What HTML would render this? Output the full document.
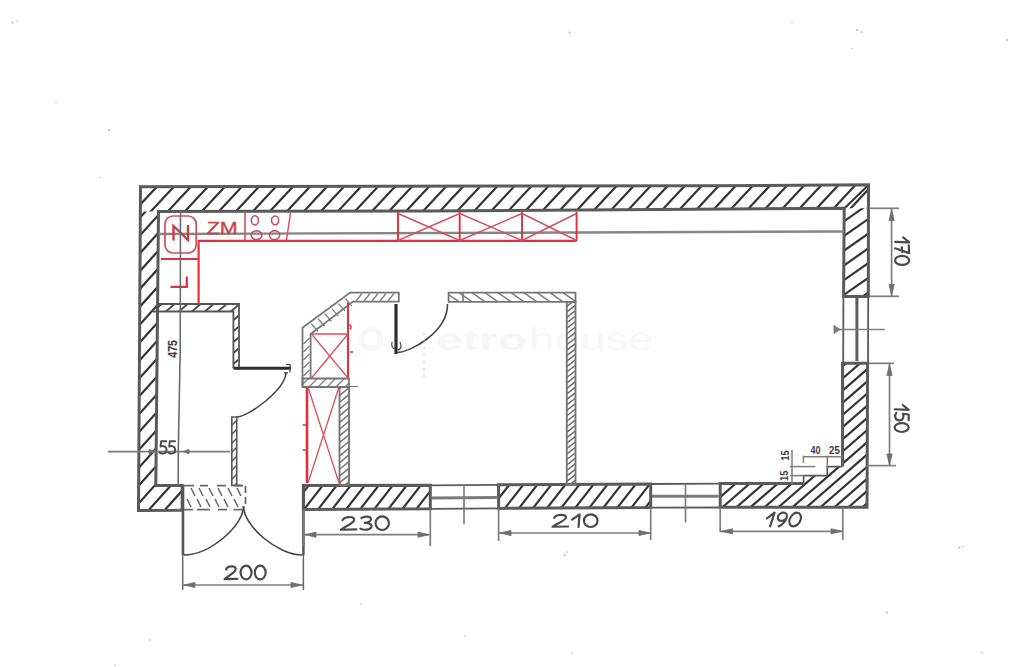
<!DOCTYPE html>
<html><head><meta charset="utf-8"><style>
html,body{margin:0;padding:0;background:#fff;}
svg{display:block;}
</style></head><body>
<svg width="1024" height="667" viewBox="0 0 1024 667">
<defs><clipPath id="c1"><polygon points="140.5,186.7 710.0,185.8 868.5,184.7 868.4,208.3 844.2,208.3 430.0,210.9 158.5,211.5 140.3,211.5"/></clipPath><clipPath id="c2"><polygon points="140.3,211.5 158.5,211.5 155.8,485.6 182.2,485.6 182.2,510.2 138.5,510.4"/></clipPath><clipPath id="c3"><polygon points="844.2,208.3 868.4,208.3 868.3,296.5 843.6,296.5"/></clipPath><clipPath id="c4"><polygon points="303.4,485.5 430.3,485.3 430.3,508.8 303.4,509.6"/></clipPath><clipPath id="c5"><polygon points="498.6,484.8 650.7,484.0 650.7,507.6 498.6,508.4"/></clipPath><clipPath id="c6"><polygon points="720.2,483.6 803.6,483.6 803.6,475.6 827.3,475.6 827.3,466.6 842.4,466.6 842.7,363.3 867.6,363.3 867.0,507.2 720.2,507.5"/></clipPath><clipPath id="c7"><polygon points="157.0,304.0 239.0,304.0 239.0,368.5 233.4,368.5 233.4,311.5 157.0,311.5"/></clipPath><clipPath id="c8"><polygon points="231.8,417.0 236.7,417.0 236.7,485.5 231.8,485.5"/></clipPath><clipPath id="c9"><polygon points="302.5,378.5 349.0,378.5 349.0,387.0 302.5,387.0"/></clipPath><clipPath id="c10"><polygon points="339.5,387.0 349.0,387.0 349.0,485.0 339.5,485.0"/></clipPath><clipPath id="c11"><polygon points="448.6,292.7 575.5,292.7 575.5,301.9 448.6,301.9"/></clipPath><clipPath id="c12"><polygon points="566.8,301.9 575.5,301.9 575.5,485.0 566.8,485.0"/></clipPath></defs>
<g><rect width="1024" height="667" fill="#ffffff"/><circle cx="371" cy="339" r="9.5" fill="none" stroke="#f8f8f8" stroke-width="5"/><text x="436" y="350" font-family="Liberation Sans, sans-serif" font-size="29" font-weight="bold" fill="#f6f6f6" textLength="91" lengthAdjust="spacingAndGlyphs">etro</text><text x="529" y="350" font-family="Liberation Sans, sans-serif" font-size="31" fill="#f7f7f7" textLength="125" lengthAdjust="spacingAndGlyphs">house</text><circle cx="569.5" cy="32.5" r="0.9" fill="#b4b4b4"/><circle cx="792" cy="22.5" r="0.8" fill="#b4b4b4"/><circle cx="857" cy="30" r="1.1" fill="#b4b4b4"/><circle cx="861.5" cy="32" r="0.9" fill="#b4b4b4"/><circle cx="852" cy="48.5" r="0.7" fill="#b4b4b4"/><circle cx="1007" cy="40" r="0.9" fill="#b4b4b4"/><circle cx="12.5" cy="22.5" r="0.9" fill="#b4b4b4"/><circle cx="17" cy="21" r="0.7" fill="#b4b4b4"/><circle cx="56" cy="102.5" r="0.8" fill="#b4b4b4"/><circle cx="109" cy="130" r="1" fill="#b4b4b4"/><circle cx="100" cy="177.5" r="0.8" fill="#b4b4b4"/><circle cx="564.5" cy="555" r="0.9" fill="#b4b4b4"/><circle cx="567" cy="552" r="0.8" fill="#b4b4b4"/><circle cx="959.5" cy="547.5" r="0.9" fill="#b4b4b4"/><circle cx="963" cy="546.5" r="0.8" fill="#b4b4b4"/><circle cx="887" cy="612.5" r="0.9" fill="#b4b4b4"/><circle cx="572" cy="652.5" r="0.8" fill="#b4b4b4"/><circle cx="982" cy="652.5" r="0.8" fill="#b4b4b4"/><circle cx="150" cy="640" r="0.8" fill="#b4b4b4"/><circle cx="361" cy="604" r="0.8" fill="#b4b4b4"/><circle cx="465" cy="636" r="0.8" fill="#b4b4b4"/><circle cx="115" cy="665" r="0.8" fill="#b4b4b4"/><g clip-path="url(#c1)"><path d="M95.1,216.5L129.4,179.7M112.1,216.5L146.4,179.7M129.1,216.5L163.4,179.7M146.1,216.5L180.4,179.7M163.1,216.5L197.4,179.7M180.1,216.5L214.4,179.7M197.1,216.5L231.4,179.7M214.1,216.5L248.4,179.7M231.1,216.5L265.4,179.7M248.1,216.5L282.4,179.7M265.1,216.5L299.4,179.7M282.1,216.5L316.4,179.7M299.1,216.5L333.4,179.7M316.1,216.5L350.4,179.7M333.1,216.5L367.4,179.7M350.1,216.5L384.4,179.7M367.1,216.5L401.4,179.7M384.1,216.5L418.4,179.7M401.1,216.5L435.4,179.7M418.1,216.5L452.4,179.7M435.1,216.5L469.4,179.7M452.1,216.5L486.4,179.7M469.1,216.5L503.4,179.7M486.1,216.5L520.4,179.7M503.1,216.5L537.4,179.7M520.1,216.5L554.4,179.7M537.1,216.5L571.4,179.7M554.1,216.5L588.4,179.7M571.1,216.5L605.4,179.7M588.1,216.5L622.4,179.7M605.1,216.5L639.4,179.7M622.1,216.5L656.4,179.7M639.1,216.5L673.4,179.7M656.1,216.5L690.4,179.7M673.1,216.5L707.4,179.7M690.1,216.5L724.4,179.7M707.1,216.5L741.4,179.7M724.1,216.5L758.4,179.7M741.1,216.5L775.4,179.7M758.1,216.5L792.4,179.7M775.1,216.5L809.4,179.7M792.1,216.5L826.4,179.7M809.1,216.5L843.4,179.7M826.1,216.5L860.4,179.7M843.1,216.5L877.4,179.7M860.1,216.5L894.4,179.7" stroke="#353535" stroke-width="2.2" fill="none"/></g><g clip-path="url(#c2)"><path d="M-160.1,515.4L118.1,206.5M-144.1,515.4L134.1,206.5M-128.1,515.4L150.1,206.5M-112.1,515.4L166.1,206.5M-96.1,515.4L182.1,206.5M-80.1,515.4L198.1,206.5M-64.1,515.4L214.1,206.5M-48.1,515.4L230.1,206.5M-32.1,515.4L246.1,206.5M-16.1,515.4L262.1,206.5M-0.1,515.4L278.1,206.5M15.9,515.4L294.1,206.5M31.9,515.4L310.1,206.5M47.9,515.4L326.1,206.5M63.9,515.4L342.1,206.5M79.9,515.4L358.1,206.5M95.9,515.4L374.1,206.5M111.9,515.4L390.1,206.5M127.9,515.4L406.1,206.5M143.9,515.4L422.1,206.5M159.9,515.4L438.1,206.5M175.9,515.4L454.1,206.5" stroke="#353535" stroke-width="2.2" fill="none"/></g><g clip-path="url(#c3)"><path d="M687.4,301.5L827.7,203.3M708.4,301.5L848.7,203.3M729.4,301.5L869.7,203.3M750.4,301.5L890.7,203.3M771.4,301.5L911.7,203.3M792.4,301.5L932.7,203.3M813.4,301.5L953.7,203.3M834.4,301.5L974.7,203.3M855.4,301.5L995.7,203.3" stroke="#353535" stroke-width="2.2" fill="none"/></g><g clip-path="url(#c4)"><path d="M258.0,514.6L284.7,480.3M272.0,514.6L298.7,480.3M286.0,514.6L312.7,480.3M300.0,514.6L326.7,480.3M314.0,514.6L340.7,480.3M328.0,514.6L354.7,480.3M342.0,514.6L368.7,480.3M356.0,514.6L382.7,480.3M370.0,514.6L396.7,480.3M384.0,514.6L410.7,480.3M398.0,514.6L424.7,480.3M412.0,514.6L438.7,480.3M426.0,514.6L452.7,480.3" stroke="#353535" stroke-width="2.2" fill="none"/></g><g clip-path="url(#c5)"><path d="M458.9,513.4L485.8,479.0M472.9,513.4L499.8,479.0M486.9,513.4L513.8,479.0M500.9,513.4L527.8,479.0M514.9,513.4L541.8,479.0M528.9,513.4L555.8,479.0M542.9,513.4L569.8,479.0M556.9,513.4L583.8,479.0M570.9,513.4L597.8,479.0M584.9,513.4L611.8,479.0M598.9,513.4L625.8,479.0M612.9,513.4L639.8,479.0M626.9,513.4L653.8,479.0M640.9,513.4L667.8,479.0M654.9,513.4L681.8,479.0" stroke="#353535" stroke-width="2.2" fill="none"/></g><g clip-path="url(#c6)"><path d="M534.4,512.5L711.8,358.3M548.4,512.5L725.8,358.3M562.4,512.5L739.8,358.3M576.4,512.5L753.8,358.3M590.4,512.5L767.8,358.3M604.4,512.5L781.8,358.3M618.4,512.5L795.8,358.3M632.4,512.5L809.8,358.3M646.4,512.5L823.8,358.3M660.4,512.5L837.8,358.3M674.4,512.5L851.8,358.3M688.4,512.5L865.8,358.3M702.4,512.5L879.8,358.3M716.4,512.5L893.8,358.3M730.4,512.5L907.8,358.3M744.4,512.5L921.8,358.3M758.4,512.5L935.8,358.3M772.4,512.5L949.8,358.3M786.4,512.5L963.8,358.3M800.4,512.5L977.8,358.3M814.4,512.5L991.8,358.3M828.4,512.5L1005.8,358.3M842.4,512.5L1019.8,358.3M856.4,512.5L1033.8,358.3M870.4,512.5L1047.8,358.3" stroke="#353535" stroke-width="2.2" fill="none"/></g><path d="M844.5,208.3L867.5,186" stroke="#353535" stroke-width="2.0" fill="none"/><polygon points="138.5,510.4 140.5,186.7 710.0,185.8 868.5,184.7 868.3,296.5 843.6,296.5 844.2,208.3 430.0,210.9 158.5,211.5 155.8,485.6 182.2,485.6 182.2,510.2" fill="none" stroke="#5a5a5a" stroke-width="3.0" stroke-linejoin="miter"/><polygon points="303.4,485.5 430.3,485.3 430.3,508.8 303.4,509.6" fill="none" stroke="#5a5a5a" stroke-width="3.0" stroke-linejoin="miter"/><polygon points="498.6,484.8 650.7,484.0 650.7,507.6 498.6,508.4" fill="none" stroke="#5a5a5a" stroke-width="3.0" stroke-linejoin="miter"/><path d="M842.55,466.6V363.3H867.6L867.0,507.2H720.2V483.6H803.6" stroke="#5a5a5a" stroke-width="3.0" fill="none"/><path d="M803.6,483.6V475.6H827.3V466.6H842.4" stroke="#5a5a5a" stroke-width="1.7" fill="none"/><line x1="843.4" y1="296.5" x2="843.2" y2="363.3" stroke="#5a5a5a" stroke-width="1.8"/><line x1="868.2" y1="296.5" x2="868.0" y2="363.3" stroke="#5a5a5a" stroke-width="1.8"/><line x1="856.9" y1="298" x2="856.9" y2="361" stroke="#5e5e5e" stroke-width="3"/><line x1="835" y1="329.5" x2="884.7" y2="329.5" stroke="#7e7e7e" stroke-width="1.7"/><path d="M834,325.5L840,329.5L834,333.5Z" stroke="#7e7e7e" stroke-width="1" fill="#7e7e7e"/><line x1="430.3" y1="485.3" x2="498.6" y2="484.8" stroke="#5a5a5a" stroke-width="1.8"/><line x1="430.3" y1="508.8" x2="498.6" y2="508.4" stroke="#5a5a5a" stroke-width="1.8"/><line x1="431.5" y1="497.9" x2="497.5" y2="497.6" stroke="#7a7a7a" stroke-width="3"/><line x1="464" y1="485" x2="464" y2="524" stroke="#7e7e7e" stroke-width="1.7"/><line x1="650.7" y1="484.0" x2="720.2" y2="483.6" stroke="#5a5a5a" stroke-width="1.8"/><line x1="650.7" y1="507.6" x2="720.2" y2="507.5" stroke="#5a5a5a" stroke-width="1.8"/><line x1="652" y1="496.3" x2="718.5" y2="496.3" stroke="#7a7a7a" stroke-width="3"/><line x1="685.5" y1="484" x2="685.5" y2="522.5" stroke="#7e7e7e" stroke-width="1.7"/><line x1="158.5" y1="234" x2="844" y2="231.5" stroke="#858585" stroke-width="2.4"/><g clip-path="url(#c7)"><path d="M52.9,373.5L141.7,299.0M65.9,373.5L154.7,299.0M78.9,373.5L167.7,299.0M91.9,373.5L180.7,299.0M104.9,373.5L193.7,299.0M117.9,373.5L206.7,299.0M130.9,373.5L219.7,299.0M143.9,373.5L232.7,299.0M156.9,373.5L245.7,299.0M169.9,373.5L258.7,299.0M182.9,373.5L271.7,299.0M195.9,373.5L284.7,299.0M208.9,373.5L297.7,299.0M221.9,373.5L310.7,299.0M234.9,373.5L323.7,299.0" stroke="#484848" stroke-width="1.9" fill="none"/></g><path d="M157,304H239V368.5M153,311.5H233.4V368.5" stroke="#555" stroke-width="1.8" fill="none"/><line x1="233.5" y1="368.3" x2="291" y2="368.3" stroke="#2e2e2e" stroke-width="3"/><path d="M286,364.5L290,364.5L290,372.5M284,372.8L288,372.8" stroke="#444" stroke-width="1.2" fill="none"/><path d="M286.0,372.0 C286.0,389.3 248.3,417.0 236.5,417.0" stroke="#444" stroke-width="1.5" fill="none"/><g clip-path="url(#c8)"><path d="M139.5,490.5L218.0,412.0M148.5,490.5L227.0,412.0M157.5,490.5L236.0,412.0M166.5,490.5L245.0,412.0M175.5,490.5L254.0,412.0M184.5,490.5L263.0,412.0M193.5,490.5L272.0,412.0M202.5,490.5L281.0,412.0M211.5,490.5L290.0,412.0M220.5,490.5L299.0,412.0M229.5,490.5L308.0,412.0M238.5,490.5L317.0,412.0" stroke="#555" stroke-width="1.4" fill="none"/></g><polygon points="231.8,417.0 236.7,417.0 236.7,485.5 231.8,485.5" fill="none" stroke="#555" stroke-width="1.6" stroke-linejoin="miter"/><path d="M183,485.6H194M200,485.6H208M217,485.6H226M233.5,485.6H243M175,509.6H193M197,509.6H210M218,509.6H227M233.5,509.6H242M245.5,486V493M245.5,497V504" stroke="#6a6a6a" stroke-width="1.8" fill="none"/><path d="M191,488L195,496M199,488L203,496M209,488L213,496M218,488L222,496M228,488L232,496M237,488L241,496M187,499L191,507M197,499L201,507M206,499L210,507M215,499L219,507M224,499L228,507M234,499L238,507" stroke="#6a6a6a" stroke-width="1.6" fill="none"/><path d="M236,485.4H242" stroke="#666" stroke-width="1.8" fill="none"/><line x1="182.7" y1="485.6" x2="182.7" y2="590" stroke="#666" stroke-width="1.5"/><line x1="183" y1="486" x2="183" y2="555" stroke="#555" stroke-width="2.6"/><line x1="303.4" y1="485.5" x2="303.4" y2="590" stroke="#666" stroke-width="1.5"/><line x1="303.4" y1="485.5" x2="303.4" y2="555" stroke="#555" stroke-width="2.4"/><path d="M184.0,555.0 C209.4,555.0 243.5,526.0 243.5,506.0" stroke="#444" stroke-width="1.6" fill="none"/><path d="M243.5,506 C243.5,526 277.6,555 302.5,555" stroke="#444" stroke-width="1.6" fill="none"/><line x1="183" y1="585" x2="303" y2="585" stroke="#7e7e7e" stroke-width="1.7"/><path d="M195.0,582.4L184,585L195.0,587.6Z" stroke="#6e6e6e" stroke-width="0.8" fill="#6e6e6e"/><path d="M291.0,587.6L302,585L291.0,582.4Z" stroke="#6e6e6e" stroke-width="0.8" fill="#6e6e6e"/><path d="M226.08,569.54C227.00,565.97 235.07,564.88 235.64,568.71C236.22,572.28 228.16,575.56 224.70,579.13L237.37,578.85M251.53,572.55C251.53,576.33 249.09,579.40 246.06,579.40C243.04,579.40 240.59,576.33 240.59,572.55C240.59,568.77 243.04,565.70 246.06,565.70C249.09,565.70 251.53,568.77 251.53,572.55M265.70,572.55C265.70,576.33 263.25,579.40 260.23,579.40C257.21,579.40 254.76,576.33 254.76,572.55C254.76,568.77 257.21,565.70 260.23,565.70C263.25,565.70 265.70,568.77 265.70,572.55" stroke="#4a4a4a" stroke-width="2.2" fill="none" stroke-linecap="round" stroke-linejoin="round"/><path d="M398.8,292.6 L350.2,292.6 L302.5,327.7 L302.5,386.5" stroke="#767676" stroke-width="1.8" fill="none"/><path d="M398.5,301.6 L353,301.6 L310.6,334 L310.6,378.5" stroke="#767676" stroke-width="1.8" fill="none"/><line x1="398.8" y1="291.8" x2="398.8" y2="302.4" stroke="#767676" stroke-width="1.8"/><path d="M356,301L362,293.5M364,301L370,293.5M372,301L378,293.5M380,301L386,293.5M388,301L394,293.5M345.4,298.6L351.9,306.1M338.6,303.6L345.1,311.1M331.8,308.6L338.3,316.1M324.9,313.7L331.4,321.2M318.1,318.7L324.6,326.2M311.3,323.7L317.8,331.2M303.5,344L309.5,338M303.5,352L309.5,346M303.5,360L309.5,354M303.5,368L309.5,362M303.5,376L309.5,370" stroke="#7c7c7c" stroke-width="1.3" fill="none"/><g clip-path="url(#c9)"><path d="M277.0,392.0L295.5,373.5M286.0,392.0L304.5,373.5M295.0,392.0L313.5,373.5M304.0,392.0L322.5,373.5M313.0,392.0L331.5,373.5M322.0,392.0L340.5,373.5M331.0,392.0L349.5,373.5M340.0,392.0L358.5,373.5M349.0,392.0L367.5,373.5" stroke="#7c7c7c" stroke-width="1.3" fill="none"/></g><polygon points="302.5,378.5 349.0,378.5 349.0,387.0 302.5,387.0" fill="none" stroke="#767676" stroke-width="1.8" stroke-linejoin="miter"/><line x1="345" y1="386.5" x2="358" y2="386.5" stroke="#777" stroke-width="1"/><g clip-path="url(#c10)"><path d="M203.0,490.0L331.8,382.0M211.0,490.0L339.8,382.0M219.0,490.0L347.8,382.0M227.0,490.0L355.8,382.0M235.0,490.0L363.8,382.0M243.0,490.0L371.8,382.0M251.0,490.0L379.8,382.0M259.0,490.0L387.8,382.0M267.0,490.0L395.8,382.0M275.0,490.0L403.8,382.0M283.0,490.0L411.8,382.0M291.0,490.0L419.8,382.0M299.0,490.0L427.8,382.0M307.0,490.0L435.8,382.0M315.0,490.0L443.8,382.0M323.0,490.0L451.8,382.0M331.0,490.0L459.8,382.0M339.0,490.0L467.8,382.0M347.0,490.0L475.8,382.0" stroke="#767676" stroke-width="1.5" fill="none"/></g><polygon points="339.5,387.0 349.0,387.0 349.0,485.0 339.5,485.0" fill="none" stroke="#767676" stroke-width="1.9" stroke-linejoin="miter"/><line x1="396" y1="304" x2="396" y2="354" stroke="#2e2e2e" stroke-width="3.2"/><path d="M392,342C391,347 393,349 395,348M400,342C402,347 401,349 398,350" stroke="#444" stroke-width="1.2" fill="none"/><path d="M397.0,352.5 C410,352.5 448.0,332 447.5,304.0" stroke="#444" stroke-width="1.6" fill="none"/><circle cx="424" cy="334" r="0.7" fill="#aaa"/><circle cx="424" cy="341" r="0.7" fill="#aaa"/><circle cx="424" cy="348" r="0.7" fill="#aaa"/><circle cx="424" cy="355" r="0.7" fill="#aaa"/><circle cx="424" cy="362" r="0.7" fill="#aaa"/><circle cx="424" cy="369" r="0.7" fill="#aaa"/><circle cx="424" cy="376" r="0.7" fill="#aaa"/><g clip-path="url(#c11)"><path d="M412.9,287.7L440.3,306.9M425.9,287.7L453.3,306.9M438.9,287.7L466.3,306.9M451.9,287.7L479.3,306.9M464.9,287.7L492.3,306.9M477.9,287.7L505.3,306.9M490.9,287.7L518.3,306.9M503.9,287.7L531.3,306.9M516.9,287.7L544.3,306.9M529.9,287.7L557.3,306.9M542.9,287.7L570.3,306.9M555.9,287.7L583.3,306.9M568.9,287.7L596.3,306.9" stroke="#7c7c7c" stroke-width="1.5" fill="none"/></g><polygon points="448.6,292.7 575.5,292.7 575.5,301.9 448.6,301.9" fill="none" stroke="#767676" stroke-width="1.8" stroke-linejoin="miter"/><line x1="463" y1="292.7" x2="463" y2="301.9" stroke="#767676" stroke-width="1.6"/><g clip-path="url(#c12)"><path d="M310.8,490.0L558.0,296.9M317.8,490.0L565.0,296.9M324.8,490.0L572.0,296.9M331.8,490.0L579.0,296.9M338.8,490.0L586.0,296.9M345.8,490.0L593.0,296.9M352.8,490.0L600.0,296.9M359.8,490.0L607.0,296.9M366.8,490.0L614.0,296.9M373.8,490.0L621.0,296.9M380.8,490.0L628.0,296.9M387.8,490.0L635.0,296.9M394.8,490.0L642.0,296.9M401.8,490.0L649.0,296.9M408.8,490.0L656.0,296.9M415.8,490.0L663.0,296.9M422.8,490.0L670.0,296.9M429.8,490.0L677.0,296.9M436.8,490.0L684.0,296.9M443.8,490.0L691.0,296.9M450.8,490.0L698.0,296.9M457.8,490.0L705.0,296.9M464.8,490.0L712.0,296.9M471.8,490.0L719.0,296.9M478.8,490.0L726.0,296.9M485.8,490.0L733.0,296.9M492.8,490.0L740.0,296.9M499.8,490.0L747.0,296.9M506.8,490.0L754.0,296.9M513.8,490.0L761.0,296.9M520.8,490.0L768.0,296.9M527.8,490.0L775.0,296.9M534.8,490.0L782.0,296.9M541.8,490.0L789.0,296.9M548.8,490.0L796.0,296.9M555.8,490.0L803.0,296.9M562.8,490.0L810.0,296.9M569.8,490.0L817.0,296.9M576.8,490.0L824.0,296.9" stroke="#6e6e6e" stroke-width="1.5" fill="none"/></g><polygon points="566.8,301.9 575.5,301.9 575.5,485.0 566.8,485.0" fill="none" stroke="#767676" stroke-width="1.9" stroke-linejoin="miter"/><rect x="165" y="216" width="31.2" height="37" rx="8" ry="8" fill="none" stroke="#d24e5c" stroke-width="1.7"/><path d="M173.5,240.5V226L188,240V225" stroke="#cc3a48" stroke-width="2.4" fill="none"/><text x="222.2" y="228.2" font-family="Liberation Sans, sans-serif" font-size="16.5" font-weight="normal" fill="#cf3d42" text-anchor="middle" dominant-baseline="central" textLength="31" lengthAdjust="spacingAndGlyphs" stroke="#cf3d42" stroke-width="0.3">ZM</text><line x1="245" y1="211.5" x2="245" y2="240" stroke="#d9505a" stroke-width="1.6"/><ellipse cx="254.9" cy="220.3" rx="3.6" ry="4.6" fill="none" stroke="#c44560" stroke-width="1.5"/><ellipse cx="275.1" cy="220.3" rx="3.6" ry="4.4" fill="none" stroke="#c44560" stroke-width="1.5"/><ellipse cx="256.5" cy="235.2" rx="5.4" ry="4.4" fill="none" stroke="#c44560" stroke-width="1.5"/><ellipse cx="274.6" cy="235.2" rx="5.1" ry="4.4" fill="none" stroke="#c44560" stroke-width="1.5"/><line x1="290.5" y1="213" x2="286.5" y2="240" stroke="#d9505a" stroke-width="1.5"/><line x1="199" y1="240.8" x2="576.6" y2="240.8" stroke="#e0303c" stroke-width="2.2"/><line x1="161" y1="259" x2="198" y2="259" stroke="#e0303c" stroke-width="1.8"/><line x1="198.6" y1="240" x2="198.6" y2="304" stroke="#e0303c" stroke-width="2.2"/><path d="M186.8,276.5V286.8H170.5" stroke="#e0303c" stroke-width="2.2" fill="none"/><line x1="398" y1="211.5" x2="398" y2="241" stroke="#e0303c" stroke-width="1.9"/><line x1="459.7" y1="211.5" x2="459.7" y2="241" stroke="#e0303c" stroke-width="1.9"/><line x1="522" y1="211.5" x2="522" y2="241" stroke="#e0303c" stroke-width="1.9"/><line x1="576.6" y1="211.5" x2="576.6" y2="241" stroke="#e0303c" stroke-width="1.9"/><path d="M398,213.5L459.7,240.5M398,240.5L459.7,213.5" stroke="#cf5363" stroke-width="1.4" fill="none"/><path d="M459.7,213.5L522,240.5M459.7,240.5L522,213.5" stroke="#cf5363" stroke-width="1.4" fill="none"/><path d="M522,213.5L576.6,240.5M522,240.5L576.6,213.5" stroke="#cf5363" stroke-width="1.4" fill="none"/><line x1="348" y1="302.5" x2="348" y2="378" stroke="#e0303c" stroke-width="2"/><path d="M311,334H348M311.5,334L348,378M348,334L311.5,378" stroke="#d9505a" stroke-width="1.3" fill="none"/><path d="M349,325c2,0 3,3 1,4M350,352l3,0" stroke="#e0303c" stroke-width="1.5" fill="none"/><line x1="307" y1="387" x2="307" y2="483" stroke="#e0303c" stroke-width="2.6"/><path d="M308,387L339,483M339,387L308,483" stroke="#d9505a" stroke-width="1.3" fill="none"/><path d="M302.5,425H307M302.5,450H307" stroke="#e0303c" stroke-width="1.5" fill="none"/><path d="M180.5,211.5L180.2,350L178.3,450L178.2,485.6" stroke="#6c6c6c" stroke-width="1.6" fill="none"/><text x="173" y="348.9" font-family="Liberation Sans, sans-serif" font-size="13.5" font-weight="bold" fill="#3c3c3c" text-anchor="middle" dominant-baseline="central" textLength="17.6" lengthAdjust="spacingAndGlyphs" transform="rotate(-90 173 348.9)" stroke="#3c3c3c" stroke-width="0.2">475</text><line x1="108" y1="451.6" x2="230" y2="451.6" stroke="#7e7e7e" stroke-width="1.7"/><path d="M149.0,453.8L155,451.6L149.0,449.4Z" stroke="#6e6e6e" stroke-width="0.8" fill="#6e6e6e"/><path d="M189.0,449.4L183,451.6L189.0,453.8Z" stroke="#6e6e6e" stroke-width="0.8" fill="#6e6e6e"/><path d="M166.36,441.25L161.16,441.25L160.47,446.58C162.89,445.31 166.53,446.08 166.53,449.89C166.53,453.95 161.77,454.33 159.60,452.43M175.03,441.25L169.83,441.25L169.13,446.58C171.56,445.31 175.20,446.08 175.20,449.89C175.20,453.95 170.43,454.33 168.27,452.43" stroke="#4a4a4a" stroke-width="1.9" fill="none" stroke-linecap="round" stroke-linejoin="round"/><line x1="304" y1="509" x2="304" y2="546" stroke="#7e7e7e" stroke-width="1.7"/><line x1="430.3" y1="509" x2="430.3" y2="546" stroke="#7e7e7e" stroke-width="1.7"/><line x1="304" y1="534.7" x2="429.5" y2="534.7" stroke="#7e7e7e" stroke-width="1.7"/><path d="M316.0,532.1L305,534.7L316.0,537.3Z" stroke="#6e6e6e" stroke-width="0.8" fill="#6e6e6e"/><path d="M418.0,537.3L429,534.7L418.0,532.1Z" stroke="#6e6e6e" stroke-width="0.8" fill="#6e6e6e"/><path d="M342.59,520.21C343.72,516.67 353.57,515.58 354.27,519.39C354.98,522.93 345.12,526.19 340.90,529.73L356.38,529.46M361.45,518.03C365.25,515.58 371.59,516.40 370.88,519.39C370.18,522.11 365.96,522.66 364.83,522.79C370.18,522.79 372.29,524.83 371.30,527.28C369.90,530.27 363.42,530.27 360.33,528.64M388.90,523.20C388.90,526.96 385.91,530.00 382.21,530.00C378.52,530.00 375.53,526.96 375.53,523.20C375.53,519.44 378.52,516.40 382.21,516.40C385.91,516.40 388.90,519.44 388.90,523.20" stroke="#4a4a4a" stroke-width="2.2" fill="none" stroke-linecap="round" stroke-linejoin="round"/><line x1="498.6" y1="508.4" x2="498.6" y2="541" stroke="#7e7e7e" stroke-width="1.7"/><line x1="650.7" y1="507.6" x2="650.7" y2="540" stroke="#7e7e7e" stroke-width="1.7"/><line x1="498.6" y1="533" x2="650.7" y2="533" stroke="#7e7e7e" stroke-width="1.7"/><path d="M511.0,530.4L500,533L511.0,535.6Z" stroke="#6e6e6e" stroke-width="0.8" fill="#6e6e6e"/><path d="M639.0,535.6L650,533L639.0,530.4Z" stroke="#6e6e6e" stroke-width="0.8" fill="#6e6e6e"/><path d="M554.21,517.86C555.35,514.55 565.32,513.54 566.03,517.09C566.74,520.40 556.77,523.44 552.50,526.75L568.16,526.49M572.15,519.63L579.56,514.30L578.56,527.00M597.50,520.65C597.50,524.16 594.47,527.00 590.74,527.00C587.00,527.00 583.97,524.16 583.97,520.65C583.97,517.14 587.00,514.30 590.74,514.30C594.47,514.30 597.50,517.14 597.50,520.65" stroke="#4a4a4a" stroke-width="2.2" fill="none" stroke-linecap="round" stroke-linejoin="round"/><line x1="720.2" y1="507.5" x2="720.2" y2="532" stroke="#7e7e7e" stroke-width="1.7"/><line x1="842.8" y1="507.2" x2="842.8" y2="540" stroke="#7e7e7e" stroke-width="1.7"/><line x1="720.2" y1="531.3" x2="842.8" y2="531.3" stroke="#7e7e7e" stroke-width="1.7"/><path d="M732.5,528.7L721.5,531.3L732.5,533.9Z" stroke="#6e6e6e" stroke-width="0.8" fill="#6e6e6e"/><path d="M831.0,533.9L842,531.3L831.0,528.7Z" stroke="#6e6e6e" stroke-width="0.8" fill="#6e6e6e"/><path d="M766.99,518.45L774.61,512.70L770.12,526.40M786.83,516.81C786.22,519.08 783.74,520.92 781.29,520.92C778.84,520.92 777.34,519.08 777.95,516.81C778.56,514.54 781.04,512.70 783.49,512.70C785.94,512.70 787.44,514.54 786.83,516.81M786.83,516.81C785.65,521.19 782.17,525.03 778.65,526.40M800.70,519.55C799.69,523.33 796.38,526.40 793.31,526.40C790.25,526.40 788.59,523.33 789.60,519.55C790.61,515.77 793.92,512.70 796.99,512.70C800.05,512.70 801.71,515.77 800.70,519.55" stroke="#4a4a4a" stroke-width="2.2" fill="none" stroke-linecap="round" stroke-linejoin="round"/><line x1="869" y1="208.3" x2="899" y2="208.3" stroke="#7e7e7e" stroke-width="1.7"/><line x1="869" y1="296.3" x2="899" y2="296.3" stroke="#7e7e7e" stroke-width="1.7"/><line x1="891.6" y1="208.3" x2="891.6" y2="296.3" stroke="#7e7e7e" stroke-width="1.7"/><path d="M894.2,220.5L891.6,209.5L889.0,220.5Z" stroke="#6e6e6e" stroke-width="0.8" fill="#6e6e6e"/><path d="M889.0,284.5L891.6,295.5L894.2,284.5Z" stroke="#6e6e6e" stroke-width="0.8" fill="#6e6e6e"/><path d="M903.22,237.45L909.10,242.45L895.10,241.78M908.82,245.43L909.10,253.12L895.10,248.32M901.82,247.35L902.10,252.16M902.10,264.95C898.23,264.95 895.10,262.91 895.10,260.38C895.10,257.86 898.23,255.82 902.10,255.82C905.97,255.82 909.10,257.86 909.10,260.38C909.10,262.91 905.97,264.95 902.10,264.95" stroke="#4a4a4a" stroke-width="2.2" fill="none" stroke-linecap="round" stroke-linejoin="round"/><line x1="868.5" y1="363.3" x2="894" y2="363.3" stroke="#7e7e7e" stroke-width="1.7"/><line x1="867" y1="465.6" x2="896" y2="465.6" stroke="#7e7e7e" stroke-width="1.7"/><line x1="889.5" y1="363.3" x2="889.5" y2="465.6" stroke="#7e7e7e" stroke-width="1.7"/><path d="M892.1,375.5L889.5,364.5L886.9,375.5Z" stroke="#6e6e6e" stroke-width="0.8" fill="#6e6e6e"/><path d="M886.9,454.0L889.5,465L892.1,454.0Z" stroke="#6e6e6e" stroke-width="0.8" fill="#6e6e6e"/><path d="M902.82,405.00L908.70,409.91L894.70,409.25M908.70,420.20L908.70,414.53L902.82,413.78C904.22,416.42 903.38,420.39 899.18,420.39C894.70,420.39 894.28,415.20 896.38,412.84M901.70,432.00C897.83,432.00 894.70,429.99 894.70,427.52C894.70,425.04 897.83,423.03 901.70,423.03C905.57,423.03 908.70,425.04 908.70,427.52C908.70,429.99 905.57,432.00 901.70,432.00" stroke="#4a4a4a" stroke-width="2.2" fill="none" stroke-linecap="round" stroke-linejoin="round"/><line x1="792" y1="450" x2="792" y2="484" stroke="#7e7e7e" stroke-width="1.5"/><line x1="790" y1="466.6" x2="815.5" y2="466.6" stroke="#7e7e7e" stroke-width="1.5"/><line x1="790" y1="475.6" x2="803.6" y2="475.6" stroke="#7e7e7e" stroke-width="1.5"/><line x1="803.4" y1="456.7" x2="842.4" y2="456.7" stroke="#7e7e7e" stroke-width="1.5"/><line x1="803.4" y1="455.5" x2="803.4" y2="463" stroke="#7e7e7e" stroke-width="1.5"/><line x1="827.3" y1="455.5" x2="827.3" y2="466.6" stroke="#7e7e7e" stroke-width="1.5"/><text x="784.5" y="455.5" font-family="Liberation Sans, sans-serif" font-size="11" font-weight="bold" fill="#3c3c3c" text-anchor="middle" dominant-baseline="central" textLength="10.3" lengthAdjust="spacingAndGlyphs" transform="rotate(-90 784.5 455.5)">15</text><text x="784.5" y="475.8" font-family="Liberation Sans, sans-serif" font-size="11" font-weight="bold" fill="#3c3c3c" text-anchor="middle" dominant-baseline="central" textLength="10.3" lengthAdjust="spacingAndGlyphs" transform="rotate(-90 784.5 475.8)">15</text><text x="815.6" y="450" font-family="Liberation Sans, sans-serif" font-size="11.5" font-weight="bold" fill="#3c3c3c" text-anchor="middle" dominant-baseline="central" textLength="10" lengthAdjust="spacingAndGlyphs">40</text><text x="834.5" y="450" font-family="Liberation Sans, sans-serif" font-size="11.5" font-weight="bold" fill="#3c3c3c" text-anchor="middle" dominant-baseline="central" textLength="10.8" lengthAdjust="spacingAndGlyphs">25</text></g>
</svg>
</body></html>
